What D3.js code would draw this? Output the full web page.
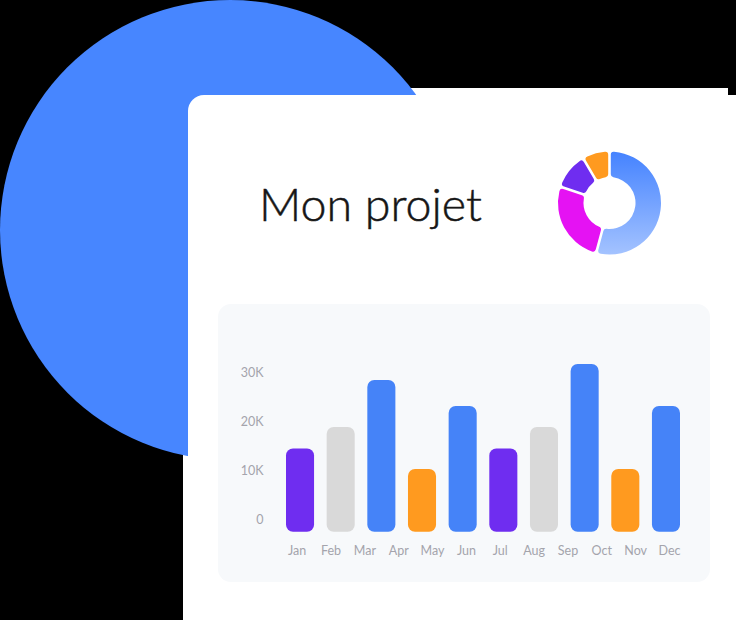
<!DOCTYPE html>
<html>
<head>
<meta charset="utf-8">
<script src="https://cdn.jsdelivr.net/npm/d3@7"></script>
<style>
  html, body { margin: 0; padding: 0; background: #000; }
  svg { display: block; }
</style>
</head>
<body>
<script>
// ---- data ----
const title = "Mon projet";
const months = ["Jan", "Feb", "Mar", "Apr", "May", "Jun", "Jul", "Aug", "Sep", "Oct", "Nov", "Dec"];
const barValues = [14500, 18900, 28500, 10300, 23200, 14500, 18900, 31800, 10300, 23200];
const barGroups = ["violet", "gris", "bleu", "orange", "bleu", "violet", "gris", "bleu", "orange", "bleu"];
const yTicks = [0, 10000, 20000, 30000];
const donutNames = ["bleu", "magenta", "violet", "orange"];
const donutValues = [55, 26, 11, 8];

// ---- styles ----
const palette = { violet: "#6F2DF0", gris: "#D9D9D9", bleu: "#4583F8", orange: "#FF9A1F", magenta: "#E512F3" };
const W = 736, H = 620;

const svg = d3.select("body").append("svg").attr("width", W).attr("height", H);
const defs = svg.append("defs");
const grad = defs.append("linearGradient").attr("id", "blueGrad")
  .attr("gradientUnits", "userSpaceOnUse").attr("x1", 0).attr("y1", 152 - 203).attr("x2", 0).attr("y2", 255 - 203);
grad.append("stop").attr("offset", "0%").attr("stop-color", "#4583FF");
grad.append("stop").attr("offset", "100%").attr("stop-color", "#A4C3FF");

// back white layer (behind circle)
svg.append("path")
  .attr("d", "M183,620 L183,88 L728,88 L728,96 L736,96 L736,620 Z")
  .attr("fill", "#ffffff");

// big blue circle
svg.append("circle").attr("cx", 230).attr("cy", 230).attr("r", 230).attr("fill", "#4786FF");

// front card
svg.append("rect").attr("x", 188).attr("y", 95).attr("width", 600).attr("height", 600)
  .attr("rx", 16).attr("fill", "#ffffff");

// title
svg.append("text").attr("x", 259).attr("y", 221)
  .attr("font-family", "Lato, 'Open Sans', sans-serif").attr("font-size", 45).attr("font-weight", 300)
  .attr("fill", "#161616").attr("stroke", "#161616").attr("stroke-width", 0.5)
  .attr("textLength", 223).attr("lengthAdjust", "spacingAndGlyphs")
  .text(title);

// donut
const pie = d3.pie().sort(null).value(d => d).padAngle(0.045);
const arc = d3.arc().innerRadius(26).outerRadius(51.5).cornerRadius(3);
const dg = svg.append("g").attr("transform", "translate(609.5,203)");
dg.selectAll("path").data(pie(donutValues)).join("path")
  .attr("d", arc)
  .attr("fill", (d, i) => donutNames[i] === "bleu" ? "url(#blueGrad)" : palette[donutNames[i]]);

// chart panel
svg.append("rect").attr("x", 218).attr("y", 304).attr("width", 492).attr("height", 278)
  .attr("rx", 13).attr("fill", "#F7F9FB");

// scales
const y = d3.scaleLinear().domain([0, 30000]).range([519.3, 372.7]);
const baseY = y(0) + 12.4;
const xb = d3.scaleBand().domain(d3.range(barValues.length)).range([286, 680]).paddingInner(0.31).paddingOuter(0);
const xm = d3.scalePoint().domain(months).range([296.7, 669]);

// bars
svg.append("g").selectAll("rect").data(barValues).join("rect")
  .attr("x", (d, i) => xb(i))
  .attr("y", d => y(d))
  .attr("width", xb.bandwidth())
  .attr("height", d => baseY - y(d))
  .attr("rx", 7)
  .attr("fill", (d, i) => palette[barGroups[i]]);

// y axis
const yAxis = svg.append("g").attr("transform", "translate(263.5,0)")
  .call(d3.axisLeft(y).tickValues(yTicks).tickSize(0).tickPadding(0)
    .tickFormat(d => d === 0 ? "0" : (d / 1000) + "K"));
yAxis.select(".domain").remove();
yAxis.selectAll("text").attr("font-family", "Lato, sans-serif").attr("font-size", 12.5).attr("fill", "#A4A4AC");

// x axis
const xAxis = svg.append("g").attr("transform", "translate(0,546.5)")
  .call(d3.axisBottom(xm).tickSize(0).tickPadding(0));
xAxis.select(".domain").remove();
xAxis.selectAll("text").attr("font-family", "Lato, sans-serif").attr("font-size", 12.5).attr("fill", "#A4A4AC");
</script>
</body>
</html>
